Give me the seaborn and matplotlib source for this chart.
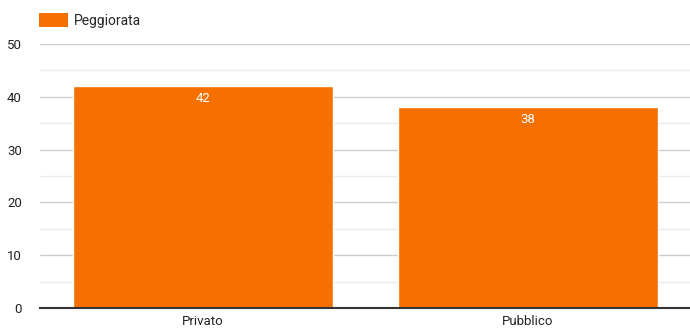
import matplotlib
matplotlib.use("Agg")
import matplotlib.pyplot as plt
from matplotlib.patches import Patch
from matplotlib.ticker import MultipleLocator
import seaborn as sns
import pandas as pd

categories = ["Privato", "Pubblico"]
values = [42, 38]
series_name = "Peggiorata"
bar_color = "#F57000"

sns.set_theme(style="white")
plt.rcParams["font.family"] = ["Roboto", "DejaVu Sans"]

df = pd.DataFrame({"categoria": categories, "valore": values})

fig = plt.figure(figsize=(6.9, 3.31), dpi=100)
ax = fig.add_axes([0.058, 0.0695, 0.943, 0.7975])

sns.barplot(data=df, x="categoria", y="valore", color=bar_color,
            saturation=1, width=0.8, ax=ax, zorder=3)

ax.set_xlim(-0.5, 1.5)
ax.set_ylim(0, 50)
ax.yaxis.set_major_locator(MultipleLocator(10))
ax.yaxis.set_minor_locator(MultipleLocator(5))
ax.grid(axis="y", which="major", color="#cccccc", linewidth=1, zorder=0)
ax.grid(axis="y", which="minor", color="#ebebeb", linewidth=1, zorder=0)
ax.set_axisbelow(True)

for s in ["top", "right", "left"]:
    ax.spines[s].set_visible(False)
ax.spines["bottom"].set_color("#333333")
ax.spines["bottom"].set_linewidth(1.5)
ax.spines["bottom"].set_zorder(5)

ax.set_xlabel("")
ax.set_ylabel("")
ax.tick_params(axis="both", which="both", length=0, labelsize=9.5, colors="#222222")
ax.tick_params(axis="y", pad=13)
ax.tick_params(axis="x", pad=5)
for lbl in ax.get_yticklabels():
    lbl.set_horizontalalignment("right")

for patch, v in zip(ax.patches, values):
    ax.annotate(f"{v}", (patch.get_x() + patch.get_width() / 2, v),
                xytext=(0, -4), textcoords="offset points",
                ha="center", va="top", color="white", fontsize=9.5)

handle = Patch(facecolor=bar_color, edgecolor="none")
fig.legend([handle], [series_name], loc="upper left",
           bbox_to_anchor=(0.037, 1.0), frameon=False,
           handlelength=2.1, handleheight=1.1, handletextpad=0.45,
           fontsize=10, borderaxespad=0.55)

fig.savefig("out.png", dpi=100)
